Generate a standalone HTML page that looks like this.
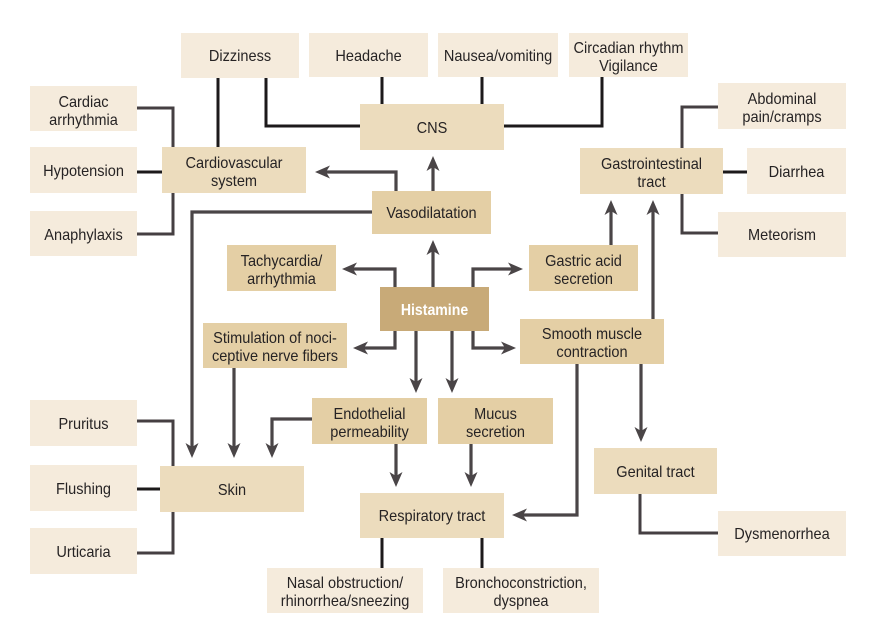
<!DOCTYPE html>
<html><head><meta charset="utf-8"><style>
html,body{margin:0;padding:0;background:#fff;}
svg{display:block;}
text{font-family:"Liberation Sans",sans-serif;font-size:16px;fill:#262324;}
.L{fill:#f5ebdc;}
.M{fill:#ecdcbd;}
.D{fill:#e4cfa5;}
.H{fill:#c8aa78;}
.k{stroke:#1c1a1b;stroke-width:3;fill:none;}
.g{stroke:#453f42;stroke-width:3;fill:none;}
.a{stroke:#4a4547;stroke-width:3.2;fill:none;marker-end:url(#ah);}
</style></head><body>
<svg width="874" height="644" viewBox="0 0 874 644" xmlns="http://www.w3.org/2000/svg">
<defs>
<marker id="ah" markerUnits="userSpaceOnUse" markerWidth="16" markerHeight="13" refX="5" refY="6.5" orient="auto">
<path d="M0,0 L15,6.5 L0,13 L4,6.5 z" fill="#4a4547"/>
</marker>
</defs>

<!-- connectors -->
<path class="k" d="M218,78 V147"/>
<path class="k" d="M382,77 V104"/>
<path class="k" d="M482,77 V104"/>
<path class="k" d="M137,172 H162"/>
<path class="k" d="M723,172 H747"/>
<path class="k" d="M137,489 H160"/>
<path class="k" d="M382,538 V568"/>
<path class="k" d="M482,538 V568"/>
<path class="k" d="M266,78 V126 H360"/>
<path class="k" d="M602,77 V126 H504"/>

<path class="g" d="M137,108 H173 V147"/>
<path class="g" d="M137,234 H173 V193"/>
<path class="g" d="M718,107 H682 V148"/>
<path class="g" d="M718,233 H682 V194"/>
<path class="g" d="M137,421 H173 V466"/>
<path class="g" d="M137,553 H173 V512"/>
<path class="g" d="M640,494 V533 H718"/>

<!-- arrows -->
<path class="a" d="M396,191 V172 H325"/>
<path class="a" d="M433,191 V166"/>
<path class="a" d="M372,212 H192 V448"/>
<path class="a" d="M433,287 V250"/>
<path class="a" d="M395,287 V269 H352"/>
<path class="a" d="M473,287 V269 H513"/>
<path class="a" d="M395,331 V348 H363"/>
<path class="a" d="M473,331 V348 H506"/>
<path class="a" d="M416,331 V383"/>
<path class="a" d="M452,331 V383"/>
<path class="a" d="M234,368 V448"/>
<path class="a" d="M312,419 H272 V448"/>
<path class="a" d="M396,444 V477"/>
<path class="a" d="M471,444 V477"/>
<path class="a" d="M577,364 V515 H522"/>
<path class="a" d="M641,364 V432"/>
<path class="a" d="M611,245 V210"/>
<path class="a" d="M653,319 V210"/>

<!-- light boxes -->
<rect class="L" x="181" y="33" width="118" height="45"/>
<rect class="L" x="309" y="33" width="119" height="44"/>
<rect class="L" x="438" y="33" width="120" height="44"/>
<rect class="L" x="569" y="33" width="119" height="44"/>
<rect class="L" x="30" y="86" width="107" height="45"/>
<rect class="L" x="30" y="147" width="107" height="46"/>
<rect class="L" x="30" y="211" width="107" height="45"/>
<rect class="L" x="718" y="83" width="128" height="46"/>
<rect class="L" x="747" y="148" width="99" height="46"/>
<rect class="L" x="718" y="212" width="128" height="45"/>
<rect class="L" x="30" y="400" width="107" height="46"/>
<rect class="L" x="30" y="465" width="107" height="46"/>
<rect class="L" x="30" y="528" width="107" height="46"/>
<rect class="L" x="267" y="568" width="156" height="45"/>
<rect class="L" x="443" y="568" width="156" height="45"/>
<rect class="L" x="718" y="511" width="128" height="45"/>

<!-- organ boxes -->
<rect class="M" x="360" y="104" width="144" height="46"/>
<rect class="M" x="162" y="147" width="144" height="46"/>
<rect class="M" x="580" y="148" width="143" height="46"/>
<rect class="M" x="160" y="466" width="144" height="46"/>
<rect class="M" x="360" y="493" width="144" height="45"/>
<rect class="M" x="594" y="448" width="123" height="46"/>

<!-- effect boxes -->
<rect class="D" x="372" y="191" width="119" height="43"/>
<rect class="D" x="227" y="245" width="109" height="46"/>
<rect class="D" x="529" y="245" width="109" height="46"/>
<rect class="D" x="203" y="323" width="144" height="45"/>
<rect class="D" x="520" y="319" width="144" height="45"/>
<rect class="D" x="312" y="398" width="115" height="46"/>
<rect class="D" x="438" y="398" width="115" height="46"/>

<rect class="H" x="380" y="287" width="109" height="44"/>

<!-- text -->
<g text-anchor="middle">
<text transform="translate(240,61) scale(0.91,1)">Dizziness</text>
<text transform="translate(368.5,61) scale(0.91,1)">Headache</text>
<text transform="translate(498,61) scale(0.91,1)">Nausea/vomiting</text>
<text transform="translate(628.5,53) scale(0.91,1)">Circadian rhythm</text>
<text transform="translate(628.5,71) scale(0.91,1)">Vigilance</text>
<text transform="translate(83.5,107) scale(0.91,1)">Cardiac</text>
<text transform="translate(83.5,125) scale(0.91,1)">arrhythmia</text>
<text transform="translate(83.5,176) scale(0.91,1)">Hypotension</text>
<text transform="translate(83.5,240) scale(0.91,1)">Anaphylaxis</text>
<text transform="translate(782,104) scale(0.91,1)">Abdominal</text>
<text transform="translate(782,122) scale(0.91,1)">pain/cramps</text>
<text transform="translate(796.5,177) scale(0.91,1)">Diarrhea</text>
<text transform="translate(782,240) scale(0.91,1)">Meteorism</text>
<text transform="translate(83.5,429) scale(0.91,1)">Pruritus</text>
<text transform="translate(83.5,494) scale(0.91,1)">Flushing</text>
<text transform="translate(83.5,557) scale(0.91,1)">Urticaria</text>
<text transform="translate(345,588) scale(0.91,1)">Nasal obstruction/</text>
<text transform="translate(345,606) scale(0.91,1)">rhinorrhea/sneezing</text>
<text transform="translate(521,588) scale(0.91,1)">Bronchoconstriction,</text>
<text transform="translate(521,606) scale(0.91,1)">dyspnea</text>
<text transform="translate(782,539) scale(0.91,1)">Dysmenorrhea</text>

<text transform="translate(432,133) scale(0.91,1)">CNS</text>
<text transform="translate(234,168) scale(0.91,1)">Cardiovascular</text>
<text transform="translate(234,186) scale(0.91,1)">system</text>
<text transform="translate(651.5,169) scale(0.91,1)">Gastrointestinal</text>
<text transform="translate(651.5,187) scale(0.91,1)">tract</text>
<text transform="translate(232,495) scale(0.91,1)">Skin</text>
<text transform="translate(432,521) scale(0.91,1)">Respiratory tract</text>
<text transform="translate(655.5,477) scale(0.91,1)">Genital tract</text>

<text transform="translate(431.5,218) scale(0.91,1)">Vasodilatation</text>
<text transform="translate(281.5,266) scale(0.91,1)">Tachycardia/</text>
<text transform="translate(281.5,284) scale(0.91,1)">arrhythmia</text>
<text transform="translate(583.5,266) scale(0.91,1)">Gastric acid</text>
<text transform="translate(583.5,284) scale(0.91,1)">secretion</text>
<text transform="translate(275,343) scale(0.91,1)">Stimulation of noci-</text>
<text transform="translate(275,361) scale(0.91,1)">ceptive nerve fibers</text>
<text transform="translate(592,339) scale(0.91,1)">Smooth muscle</text>
<text transform="translate(592,357) scale(0.91,1)">contraction</text>
<text transform="translate(369.5,419) scale(0.91,1)">Endothelial</text>
<text transform="translate(369.5,437) scale(0.91,1)">permeability</text>
<text transform="translate(495.5,419) scale(0.91,1)">Mucus</text>
<text transform="translate(495.5,437) scale(0.91,1)">secretion</text>

<text transform="translate(434.5,315) scale(0.91,1)" style="fill:#fff;font-weight:bold;font-size:15.5px;">Histamine</text>
</g>
</svg>
</body></html>
